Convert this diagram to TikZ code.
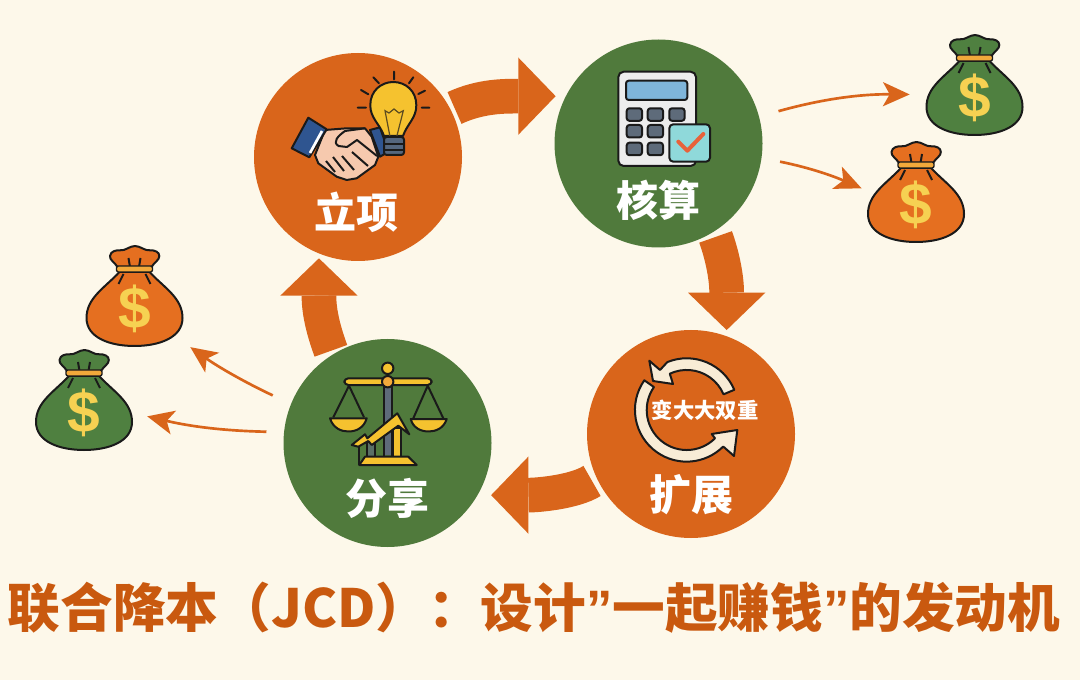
\documentclass[tikz,border=0pt]{standalone}
\usepackage{fontspec}
\setmainfont{Noto Sans CJK SC}
\newfontfamily\captionfont{Noto Sans CJK SC Black}
\newfontfamily\dollarfont{Liberation Sans}
\usetikzlibrary{arrows.meta}
\definecolor{bgcream}{HTML}{FDF8EA}
\definecolor{jcdorange}{HTML}{D9651B}
\definecolor{jcdgreen}{HTML}{507A3C}
\definecolor{bagorange}{HTML}{E56F20}
\definecolor{baggreen}{HTML}{4F8040}
\definecolor{titlebrown}{HTML}{C9590F}
\definecolor{inkblack}{HTML}{1A1A1A}
\definecolor{bulbyellow}{HTML}{F5C22F}
\definecolor{dollaryellow}{HTML}{F6D152}
\definecolor{bandgold}{HTML}{F2A93B}
\definecolor{cuffblue}{HTML}{2F5590}
\definecolor{skintone}{HTML}{F6C9AE}
\definecolor{keygrey}{HTML}{5E6B7A}
\definecolor{screenblue}{HTML}{7FB5DA}
\definecolor{checkcyan}{HTML}{8FD9DA}
\definecolor{checkred}{HTML}{E8623A}
\definecolor{ringcream}{HTML}{F8ECD6}
\tikzset{
  stagecircle/.style={circle, minimum size=156pt, inner sep=0pt},
  stagelabel/.style={text=white, font=\bfseries\fontsize{31.5}{36}\selectfont},
  blockarrow/.style={draw=jcdorange, line width=26pt, -{Triangle[length=28pt,width=58pt,line width=0pt]}},
  thinarrow/.style={draw=jcdorange, line width=2pt, -{Stealth[length=20pt,width=18pt,inset=5pt]}},
  iconline/.style={draw=inkblack, line width=1.5pt, line join=round},
  bagnode/.style={circle, minimum size=73pt, inner sep=0pt, text=dollaryellow, font=\dollarfont\bfseries\fontsize{44}{44}\selectfont},
  pics/moneybag/.style={code={
    % bag body
    \filldraw[iconline, fill=#1] (-15,-34) .. controls (-30,-18) and (-48,-8) .. (-48,12) .. controls (-48,32) and (-24,40) .. (0,40) .. controls (24,40) and (48,32) .. (48,12) .. controls (48,-8) and (30,-18) .. (15,-34) -- cycle;
    % ruffle on top
    \filldraw[iconline, fill=#1] (-17,-39) .. controls (-20,-44) and (-25,-46) .. (-24.5,-50) .. controls (-24,-55) and (-18,-56) .. (-14.5,-55.7) .. controls (-9,-55) and (-5,-60) .. (0.5,-60) .. controls (6,-60) and (10,-55) .. (15.5,-55.7) .. controls (20,-56) and (25,-54) .. (24.8,-50) .. controls (25,-46) and (20,-44) .. (17,-39) -- cycle;
    \draw[iconline] (-6,-48) -- (-4.5,-39) (6,-48) -- (4.5,-39);
    \draw[iconline] (-11,-32) -- (-16,-22) (11,-32) -- (16,-22);
    % tie band
    \filldraw[draw=inkblack, line width=1pt, fill=bandgold, rounded corners=1.5pt] (-18,-40) rectangle (18,-34);
    \node[bagnode] (-body) at (0,3) {\$};
  }}
}

\begin{document}
\begin{tikzpicture}[x=0.75pt, y=-0.75pt]
  \useasboundingbox (0,0) rectangle (1080,680);
  \fill[bgcream] (0,0) rectangle (1080,680);

  % four stages
  \node[stagecircle, fill=jcdorange] (lixiang) at (358,157) {};
  \node[stagecircle, fill=jcdgreen] (hesuan) at (658.5,143.5) {};
  \node[stagecircle, fill=jcdorange] (kuozhan) at (691,434) {};
  \node[stagecircle, fill=jcdgreen] (fenxiang) at (387.5,443) {};

  % block arrows round the cycle
  \draw[blockarrow, shorten <=3pt, shorten >=7.5pt] (lixiang.27) .. controls +(30,-14) and +(-60,0) .. (hesuan.153);
  \draw[blockarrow, shorten <=4pt, shorten >=4.5pt] (hesuan.-58) .. controls +(8,22) and +(0,-60) .. (kuozhan.70);
  \draw[blockarrow, shorten <=4pt, shorten >=10pt] (kuozhan.205) .. controls +(-22,14) and +(60,0) .. (fenxiang.-30);
  \draw[blockarrow, shorten <=3pt, shorten >=3.5pt] (fenxiang.122) .. controls +(-8,-22) and +(0,60) .. (lixiang.248);

  % handshake
  \filldraw[iconline, fill=cuffblue] (370,130) -- (380,127.3) -- (388.3,151.7) -- (380,156.7) -- cycle;
  \filldraw[iconline, fill=skintone] (325,130) -- (346.7,128.3) -- (365,128.3) -- (371.7,136.7) -- (378.3,156.7) -- (375,165) -- (356.7,178.3) -- (346.7,180) -- (336.7,176.7) -- (318.3,163.3) -- (315,155) -- cycle;
  \draw[iconline] (365,128.3) -- (345,131) .. controls (338,136) and (332,142) .. (338.5,146) -- (347,147) -- (357,140) -- (377,156);
  \draw[iconline] (326,161) -- (335,172) (333,157) -- (344,171) (342,156) -- (354,170) (352,152) -- (368,166);
  \filldraw[iconline, fill=cuffblue] (308.3,117.7) -- (326.7,129.3) -- (309.3,157.3) -- (291.7,148.3) -- cycle;
  \draw[white, line width=2pt] (322,131) -- (310,153);

  % light bulb
  \filldraw[iconline, fill=bulbyellow] (384,136) .. controls (380,124) and (370,118) .. (370.3,105) .. controls (370.3,91) and (381,82) .. (393.3,82) .. controls (405.6,82) and (416.3,91) .. (416.3,105) .. controls (416.6,118) and (407,124) .. (403,136) -- cycle;
  \draw[draw=inkblack!70!bulbyellow, line width=0.9pt] (390,136.7) -- (385,110.7) -- (389,113) -- (394,109) -- (399,113) -- (403.3,110.7) -- (396.7,136.7);
  \filldraw[iconline, fill=keygrey!80!cuffblue, rounded corners=2pt] (384,137) rectangle (404,155);
  \draw[iconline] (384,144) -- (404,144) (385,150) -- (403,150);
  \draw[iconline, line cap=round] (357.7,107.7) -- (366,107.7) (361,90) -- (368.3,94.3) (373.3,77.3) -- (379,83.3) (394,71.7) -- (394,79.3) (413.3,77.3) -- (409,83.3) (425,90.7) -- (418.3,94) (421.7,107.7) -- (429.3,107.7);
  \node[stagelabel] (lixianglabel) at (356.7,212) {立项};

  % calculator
  \filldraw[iconline, fill=black!7, rounded corners=4pt] (618.3,71.7) rectangle (696,166);
  \filldraw[iconline, fill=screenblue, rounded corners=2pt] (626,80.7) rectangle (687.3,100);
  \foreach \keyx/\keyy in {626.7/108.3, 647.7/108.3, 669.3/108.3, 626.7/125, 647.7/125, 626.7/142.7, 647.7/142.7}
    \filldraw[iconline, fill=keygrey, rounded corners=2pt] (\keyx,\keyy) rectangle +(15.3,12.5);
  \filldraw[iconline, fill=checkcyan, rounded corners=3pt] (669.3,124.3) rectangle (710,161.7);
  \draw[draw=checkred, line width=3pt, line cap=round, line join=round] (678.3,141.7) -- (687.3,150.7) -- (703.3,134);
  \node[stagelabel] (hesuanlabel) at (658,200) {核算};

  % loop arrows
  \filldraw[iconline, fill=ringcream] (734.3,389.8) arc[start angle=-23, end angle=-112, radius=51.7] -- (660,370) -- (649.3,360.7) -- (653,381) -- (673,384) -- (669.8,373.7) arc[start angle=-115, end angle=-23, radius=40] -- cycle;
  \filldraw[iconline, fill=ringcream] (644.3,380.3) arc[start angle=-145, end angle=-315, radius=51.7] -- (734,456) -- (737.3,430) -- (711.7,434) -- (715,438.3) arc[start angle=-315, end angle=-145, radius=40] -- cycle;
  \node[text=white, font=\bfseries\fontsize{16}{18}\selectfont, inner sep=0pt] (kuozhanicon) at (705,410) {变大大双重};
  \node[stagelabel] (kuozhanlabel) at (691,495) {扩展};

  % balance with rising arrow
  \fill[keygrey] (384,385) rectangle (391.7,455);
  \draw[iconline] (384,385) -- (384,457) (391.7,385) -- (391.7,457);
  \filldraw[iconline, fill=bulbyellow] (387.7,368.3) circle (5.7);
  \filldraw[iconline, fill=bulbyellow, rounded corners=3pt] (344.3,378.3) rectangle (431.7,385);
  \filldraw[iconline, fill=bandgold] (387.7,381.7) circle (5.7);
  \draw[iconline] (333.3,417.3) -- (349,385.7) -- (364,417.3) (413.3,418.3) -- (427.7,385.7) -- (443.3,418.3);
  \filldraw[iconline, fill=bulbyellow] (330,418.3) -- (366.7,418.3) .. controls (364,428) and (356,431.5) .. (348.3,431.5) .. controls (341,431.5) and (333,428) .. (330,418.3) -- cycle;
  \filldraw[iconline, fill=bulbyellow] (410.7,419) -- (446.7,419) .. controls (444,428) and (436,431.5) .. (428.7,431.5) .. controls (421,431.5) and (413,428) .. (410.7,419) -- cycle;
  \filldraw[iconline, fill=keygrey!70!jcdgreen] (367.3,442) rectangle (375,456.7);
  \filldraw[iconline, fill=bulbyellow] (393.3,428) rectangle (400.7,456.7);
  \draw[iconline] (359.3,445) -- (359.3,465);
  \filldraw[iconline, fill=bulbyellow] (351.7,445) -- (365,434.3) -- (367.3,438.3) -- (397.3,413.3) -- (409.3,434.3) -- (398.3,425.7) -- (371.7,445) -- (368.3,441) -- (358.3,446.7) -- cycle;
  \filldraw[iconline, fill=bulbyellow] (365,456.7) -- (408.3,456.7) -- (416.7,465) -- (359.3,465) -- cycle;
  \node[stagelabel] (fenxianglabel) at (387.3,498.3) {分享};

  % money bags
  \pic (baga) at (974.5,95) {moneybag=baggreen};
  \pic (bagb) at (916,202) {moneybag=bagorange};
  \pic (bagc) at (134.5,306) {moneybag=bagorange};
  \pic (bagd) at (84,410) {moneybag=baggreen};

  % thin arrows to the bags
  \draw[thinarrow, shorten <=15pt, shorten >=12pt] (hesuan.15) to[bend left=8] (baga-body.176);
  \draw[thinarrow, shorten <=14pt, shorten >=6pt] (hesuan.-8) to[bend left=6] (bagb-body.164);
  \draw[thinarrow, shorten <=15pt, shorten >=14pt] (fenxiang.158) to[bend left=5] (bagc-body.-34);
  \draw[thinarrow, shorten <=13pt, shorten >=11pt] (fenxiang.174) to[bend left=6] (bagd-body.0);

  % caption
  \node[text=titlebrown, font=\captionfont\fontsize{39.5}{46}\selectfont, inner sep=0pt] (caption) at (534,608) {联合降本（JCD）：设计{\dollarfont\bfseries ”}一起赚钱{\dollarfont\bfseries ”}的发动机};
\end{tikzpicture}
\end{document}
